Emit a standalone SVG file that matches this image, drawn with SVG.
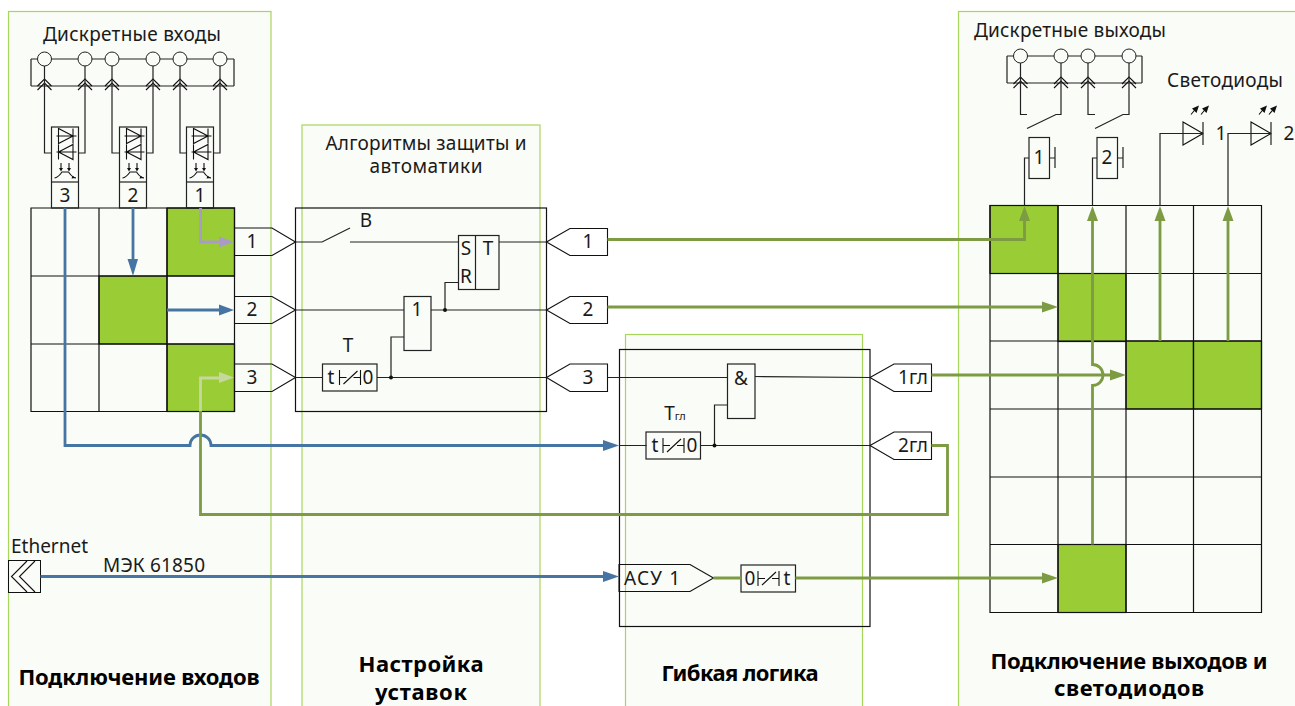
<svg xmlns="http://www.w3.org/2000/svg" width="1295" height="706" viewBox="0 0 1295 706">
<style>
text{font-family:"Noto Sans","DejaVu Sans",sans-serif;font-size:19px;fill:#1a1a1a;text-anchor:middle}
.b{font-weight:700;font-size:22px;fill:#000}
.l{text-anchor:start}
.panel{fill:#fafcf7;stroke:#a8d65a;stroke-width:1.2}
.cell{fill:none;stroke:#111;stroke-width:1.2}
.on{fill:#9acd35;stroke:#111;stroke-width:1.2}
.s{fill:none;stroke:#222;stroke-width:1.2}
.thin{fill:none;stroke:#111;stroke-width:1.1}
.g{fill:none;stroke:#7c9b42;stroke-width:2.800}
.bl{fill:none;stroke:#4675a4;stroke-width:2.800}
.ga{fill:#7c9b42}.ba{fill:#4675a4}
.k{fill:#111}
</style>
<defs>
<g id="coupler"><rect class="s" x="0" y="0" width="27" height="81"/><path class="s" d="M0 55H27"/>
<path class="thin" d="M5 9H25M7 1.500V16.500L21.500 9ZM21.500 1.500V16.500M5 25H25M21.500 17.500V32.500L7 25ZM7 17.500V32.500M9.500 36V42M17.500 36V42M3 51C7 50.500 9 47 10.500 45H17C18.500 47 20.500 50.500 24.500 51"/>
<path class="k" d="M7.500 41H11.500L9.500 44.500ZM15.500 41H19.500L17.500 44.500ZM21 49L24.500 51L20 51.500Z"/></g>
<g id="chev"><path class="thin" d="M-7 6L0 -1L7 6M-7 10L0 3L7 10"/></g>
<g id="led"><path class="thin" d="M0 -11.500V11.500L20 0ZM20 -11.500V11.500"/><path class="thin" d="M8 -19L13 -25M18 -19L23 -25"/><path class="k" d="M9 -25L16 -28L13.500 -20.500ZM19 -25L26 -28L23.500 -20.500Z"/></g>
<g id="timer"><rect class="s" x="0" y="0" width="54.500" height="27"/><path class="thin" d="M17 6V21M38 6V21M17 13.500H24M31 13.500H38M21 20L35 7"/></g>
</defs>
<rect width="1295" height="706" fill="#fff"/>
<g id="panels">
<rect class="panel" x="8.500" y="11.500" width="262.500" height="700"/>
<rect class="panel" x="302" y="125" width="238" height="590"/>
<rect class="panel" x="625.500" y="334.500" width="237" height="380"/>
<rect class="panel" x="958.500" y="11.500" width="345" height="700"/>
</g>
<g id="matrix-in">
<rect class="on" x="167" y="208" width="67.500" height="68"/><rect class="on" x="99" y="276" width="68" height="68"/><rect class="on" x="167" y="344" width="67.500" height="67.500"/>
<path class="cell" d="M31 208H234.500V411.500H31ZM99 208V411.500M167 208V411.500M31 276H234.500M31 344H234.500"/>
</g>
<g id="matrix-out">
<rect class="on" x="990" y="205.500" width="68" height="68"/><rect class="on" x="1058" y="273.500" width="68" height="68"/><rect class="on" x="1126" y="341" width="67.500" height="68"/><rect class="on" x="1193.500" y="341" width="68" height="68"/><rect class="on" x="1058" y="544.500" width="68" height="68"/>
<path class="cell" d="M990 205.500H1261.500V612.500H990ZM1058 205.500V612.500M1126 205.500V612.500M1193.500 205.500V612.500M990 273.500H1261.500M990 341H1261.500M990 409H1261.500M990 477H1261.500M990 544.500H1261.500"/>
</g>
<g id="title-inputs"><text x="132" y="41" textLength="178">Дискретные входы</text></g>
<g id="title-outputs"><text x="1070" y="37" textLength="192">Дискретные выходы</text><text x="1225" y="87" textLength="116">Светодиоды</text></g>
<g id="title-algo"><text x="426" y="150" textLength="201">Алгоритмы защиты и</text><text x="426" y="173" textLength="113">автоматики</text></g>
<g id="inputs-bus">
<path class="s" d="M31 59H234M31 86H234M31 59V86M234 59V86"/>
<circle cx="44.500" cy="59" r="7" fill="#fafcf7" stroke="#222"/><circle cx="85" cy="59" r="7" fill="#fafcf7" stroke="#222"/><circle cx="112" cy="59" r="7" fill="#fafcf7" stroke="#222"/><circle cx="153" cy="59" r="7" fill="#fafcf7" stroke="#222"/><circle cx="180" cy="59" r="7" fill="#fafcf7" stroke="#222"/><circle cx="220" cy="59" r="7" fill="#fafcf7" stroke="#222"/>
<use href="#chev" x="44.500" y="80"/><use href="#chev" x="85" y="80"/><use href="#chev" x="112" y="80"/><use href="#chev" x="153" y="80"/><use href="#chev" x="180" y="80"/><use href="#chev" x="220" y="80"/>
<path class="s" d="M44.500 66V153H51.500M85 66V153H78.500M112 66V153H119.500M153 66V153H146.500M180 66V153H186.500M220 66V153H213.500"/>
</g>
<g id="coupler-3"><use href="#coupler" x="51.500" y="127"/><text x="65" y="202">3</text></g>
<g id="coupler-2"><use href="#coupler" x="119.500" y="127"/><text x="133" y="202">2</text></g>
<g id="coupler-1"><use href="#coupler" x="186.500" y="127"/><text x="200" y="202">1</text></g>
<g id="outputs-bus">
<path class="s" d="M1007 56H1142M1007 83H1142M1007 56V83M1142 56V83"/>
<circle cx="1020.500" cy="56" r="7" fill="#fafcf7" stroke="#222"/><circle cx="1061" cy="56" r="7" fill="#fafcf7" stroke="#222"/><circle cx="1088" cy="56" r="7" fill="#fafcf7" stroke="#222"/><circle cx="1129" cy="56" r="7" fill="#fafcf7" stroke="#222"/>
<use href="#chev" x="1020.500" y="78"/><use href="#chev" x="1061" y="78"/><use href="#chev" x="1088" y="78"/><use href="#chev" x="1129" y="78"/>
<path class="s" d="M1020.500 63V114.500H1027M1061 63V114.500H1056L1027 128.500M1088 63V114.500H1095M1129 63V114.500H1123L1095 128.500"/>
</g>
<g id="relay-1"><rect class="s" x="1029" y="137.500" width="20.500" height="41"/><path class="s" d="M1049.500 158H1055M1055 147V168"/><text x="1039" y="164">1</text></g>
<g id="relay-2"><rect class="s" x="1097" y="137.500" width="20.500" height="41"/><path class="s" d="M1117.500 158H1123M1123 147V168"/><text x="1107" y="164">2</text></g>
<g id="led-1"><use href="#led" x="1183" y="133.500"/><text x="1221" y="140">1</text></g>
<g id="led-2"><use href="#led" x="1251" y="133.500"/><text x="1289" y="140">2</text></g>
<g id="ethernet"><rect x="8.500" y="560.500" width="32" height="32" fill="none" stroke="#111"/><path class="thin" d="M27 561L11.500 576.500L27 592M35 561L19.500 576.500L35 592"/><text class="l" x="11" y="553" textLength="77">Ethernet</text></g>
<text x="154" y="572" textLength="102">МЭК 61850</text>
<g id="settings">
<rect class="cell" x="295.500" y="208" width="251" height="203.500"/>
<g id="in-1"><path class="thin" d="M235 228H272L295.500 242L272 255.500H235"/><text x="252" y="248">1</text></g>
<g id="in-2"><path class="thin" d="M235 296.500H272L295.500 310L272 323.500H235"/><text x="252" y="316">2</text></g>
<g id="in-3"><path class="thin" d="M235 364H272L295.500 377.500L272 391.500H235"/><text x="252" y="384">3</text></g>
<g id="out-1"><path class="thin" d="M546.500 242L570 228.500H607.500V255.500H570Z"/><text x="588" y="248">1</text></g>
<g id="out-2"><path class="thin" d="M546.500 310L570 296.500H607.500V323.500H570Z"/><text x="588" y="316">2</text></g>
<g id="out-3"><path class="thin" d="M546.500 377.500L570 364H607.500V391.500H570Z"/><text x="588" y="384">3</text></g>
<path class="s" d="M295.500 242H322L350 228M350 242H458.500M295.500 310H404M431 310H546.500M445 310V282.500H458.500M377 377.500H546.500M295.500 377.500H322.500M391 377.500V337H404M499 242H546.500"/>
<circle cx="445" cy="310" r="2" fill="#111"/><circle cx="391" cy="377.500" r="2" fill="#111"/>
<text x="366" y="227">В</text>
<g id="sr"><rect class="s" x="458.500" y="235.500" width="40.500" height="54"/><path class="s" d="M475.500 235.500V289.500"/><text x="466" y="255">S</text><text x="466" y="283">R</text><text x="488" y="255">T</text></g>
<g id="or"><rect class="s" x="404" y="296.500" width="27" height="54"/><text x="417" y="316">1</text></g>
<g id="timer-t"><use href="#timer" x="322.500" y="364"/><text x="331" y="384">t</text><text x="368" y="384">0</text></g>
<text x="348" y="352">Т</text>
</g>
<g id="logic">
<rect class="cell" x="619.500" y="349.500" width="250.500" height="277"/>
<path class="s" d="M607.500 377.500H727.500M755 376.500L870 377.500M646.500 445.500H619.500M700.500 445.500H870M714.500 445.500V405H727.500"/>
<circle cx="714.500" cy="445.500" r="2" fill="#111"/>
<g id="and"><rect class="s" x="727.500" y="364" width="27.500" height="54.500"/><text x="741" y="385">&amp;</text></g>
<g id="timer-tgl"><use href="#timer" x="646" y="432"/><text x="655" y="452">t</text><text x="692" y="452">0</text></g>
<text x="675" y="420">Т<tspan font-size="11">гл</tspan></text>
<g id="out-1gl"><path class="thin" d="M870 377.500L894 364H931.500V391.500H894Z"/><text x="913" y="384">1гл</text></g>
<g id="out-2gl"><path class="thin" d="M870 445.500L894 432H931.500V459.500H894Z"/><text x="913" y="452">2гл</text></g>
<g id="asu"><path class="thin" d="M619 564.500H690L713.500 578L690 591.500H619Z"/><text x="652" y="585" textLength="56">АСУ 1</text></g>
<g id="timer-dr"><use href="#timer" x="741" y="565"/><text x="750" y="585">0</text><text x="787" y="585">t</text></g>
</g>
<g id="connectors">
<path d="M200.500 208V242H222" fill="none" stroke="#a99bc4" stroke-width="2.800"/><path d="M219 236.500L234 242L219 247.500Z" fill="#a99bc4"/>
<path class="bl" d="M133 208V262"/><path class="ba" d="M127.500 259H138L133 276Z"/>
<path class="bl" d="M167 310H222"/><path class="ba" d="M219 304.500L234 310L219 315.500Z"/>
<path class="bl" d="M65 208V445.500H190A10.500 10.500 0 0 1 211 445.500H606"/><path class="ba" d="M603 440L619 445.500L603 451Z"/>
<path class="bl" d="M40.500 576.500H606"/><path class="ba" d="M603 571L619 576.500L603 582Z"/>
<path class="g" d="M931.500 445.500H947.500V514.500H200.500V411.500"/>
<path d="M200.500 411.500V378H222" fill="none" stroke="#c5d89d" stroke-width="2.800"/><path d="M219 372L234 377.500L219 383Z" fill="#c5d89d"/>
<path class="g" d="M607.500 239.500H1024.500V218"/><path class="ga" d="M1019 221L1024.500 206L1030 221Z"/>
<path class="g" d="M607.500 307H1045"/><path class="ga" d="M1042 301.500L1058 307L1042 312.500Z"/>
<path class="g" d="M931.500 375H1113"/><path class="ga" d="M1110 369.500L1126 375L1110 380.500Z"/>
<path class="g" d="M1092.500 544.500V385.500A10.500 10.500 0 0 0 1092.500 364.500V218"/><path class="ga" d="M1087 221L1092.500 206L1098 221Z"/>
<path class="g" d="M1160 341V218"/><path class="ga" d="M1154.500 221L1160 206L1165.500 221Z"/>
<path class="g" d="M1228 341V218"/><path class="ga" d="M1222.500 221L1228 206L1233.500 221Z"/>
<path class="g" d="M713.500 578H741M795.500 578H1045"/><path class="ga" d="M1042 572.500L1058 578L1042 583.500Z"/>
<path class="s" d="M1024.500 205.500V158H1029M1092.500 205.500V158H1097M1160 205.500V133.500H1203M1228 205.500V133.500H1271"/>
</g>
<g id="captions">
<text class="b" x="139" y="685" textLength="241">Подключение входов</text>
<text class="b" x="421" y="672" textLength="125">Настройка</text>
<text class="b" x="421" y="700" textLength="92">уставок</text>
<text class="b" x="740" y="681" textLength="157">Гибкая логика</text>
<text class="b" x="1129" y="669" textLength="277">Подключение выходов и</text>
<text class="b" x="1129" y="696" textLength="150">светодиодов</text>
</g>
</svg>
